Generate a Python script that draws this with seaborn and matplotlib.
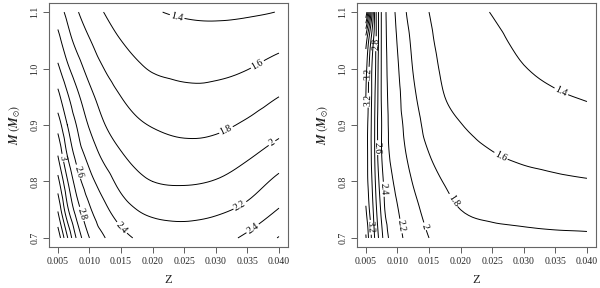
import numpy as np
import matplotlib
matplotlib.use("Agg")
import matplotlib.pyplot as plt
import matplotlib.tri as mtri
import seaborn as sns

# ─────────────────────────────────────────────
# Data (value of the contoured quantity on a grid)
# ─────────────────────────────────────────────

M_VALUES = [0.70, 0.75, 0.80, 0.85, 0.90, 0.95, 1.00, 1.05, 1.10]

Z_LEFT = [0.005, 0.0065, 0.008, 0.010, 0.0125, 0.015, 0.0175, 0.020,
          0.025, 0.030, 0.035, 0.040]

# one row per M value (bottom -> top)
LEFT_GRID = [
    [4.15, 3.62, 3.17, 2.80, 2.60, 2.47, 2.38, 2.32, 2.29, 2.33, 2.44, 2.61],
    [3.78, 3.25, 2.90, 2.63, 2.44, 2.29, 2.20, 2.155, 2.135, 2.165, 2.25, 2.41],
    [3.47, 3.02, 2.70, 2.47, 2.29, 2.14, 2.05, 2.00, 1.98, 2.01, 2.10, 2.25],
    [3.18, 2.78, 2.52, 2.32, 2.13, 2.01, 1.935, 1.89, 1.86, 1.885, 1.965, 2.08],
    [2.92, 2.60, 2.39, 2.18, 2.00, 1.895, 1.83, 1.79, 1.75, 1.76, 1.83, 1.93],
    [2.66, 2.43, 2.25, 2.06, 1.90, 1.80, 1.73, 1.69, 1.65, 1.655, 1.71, 1.80],
    [2.44, 2.24, 2.09, 1.93, 1.79, 1.70, 1.63, 1.585, 1.555, 1.56, 1.595, 1.67],
    [2.26, 2.08, 1.94, 1.81, 1.68, 1.60, 1.54, 1.50, 1.47, 1.465, 1.485, 1.54],
    [2.10, 1.95, 1.82, 1.69, 1.59, 1.51, 1.455, 1.415, 1.38, 1.37, 1.38, 1.405],
]

Z_RIGHT = [0.005, 0.0055, 0.006, 0.0065, 0.007, 0.0075, 0.008, 0.009, 0.010,
           0.0115, 0.013, 0.015, 0.0175, 0.020, 0.025, 0.030, 0.035, 0.040]

RIGHT_GRID = [
    [3.62, 3.36, 3.15, 2.96, 2.80, 2.66, 2.50, 2.35, 2.26, 2.16, 2.07, 2.00, 1.93, 1.88, 1.85, 1.84, 1.83, 1.825],
    [3.42, 3.22, 3.06, 2.87, 2.70, 2.55, 2.40, 2.29, 2.21, 2.115, 2.03, 1.935, 1.86, 1.80, 1.76, 1.74, 1.725, 1.715],
    [3.30, 3.14, 2.99, 2.80, 2.62, 2.47, 2.35, 2.23, 2.15, 2.05, 1.96, 1.865, 1.79, 1.73, 1.675, 1.645, 1.625, 1.61],
    [3.30, 3.12, 2.95, 2.76, 2.55, 2.40, 2.29, 2.17, 2.09, 1.99, 1.895, 1.80, 1.72, 1.665, 1.605, 1.57, 1.55, 1.53],
    [3.32, 3.12, 2.95, 2.76, 2.54, 2.40, 2.28, 2.15, 2.07, 1.95, 1.85, 1.735, 1.655, 1.605, 1.545, 1.50, 1.48, 1.455],
    [3.40, 3.15, 2.97, 2.78, 2.56, 2.38, 2.27, 2.13, 2.05, 1.90, 1.80, 1.69, 1.60, 1.555, 1.50, 1.45, 1.415, 1.39],
    [3.48, 3.20, 2.98, 2.82, 2.57, 2.38, 2.26, 2.11, 2.02, 1.87, 1.76, 1.66, 1.57, 1.52, 1.465, 1.405, 1.37, 1.34],
    [3.70, 3.37, 3.10, 2.86, 2.60, 2.38, 2.25, 2.09, 1.99, 1.84, 1.73, 1.63, 1.545, 1.49, 1.43, 1.37, 1.335, 1.305],
    [4.60, 4.00, 3.40, 2.90, 2.60, 2.38, 2.24, 2.07, 1.96, 1.79, 1.69, 1.60, 1.525, 1.46, 1.395, 1.34, 1.305, 1.28],
]

LEVELS = [1.4, 1.6, 1.8, 2.0, 2.2, 2.4, 2.6, 2.8, 3.0, 3.2, 3.4, 3.6,
          3.8, 4.0, 4.2, 4.4]

X_TICKS = [0.005, 0.010, 0.015, 0.020, 0.025, 0.030, 0.035, 0.040]
X_TICK_LABELS = ["0.005", "0.010", "0.015", "0.020", "0.025", "0.030", "0.035", "0.040"]
Y_TICKS = [0.7, 0.8, 0.9, 1.0, 1.1]
Y_TICK_LABELS = ["0.7", "0.8", "0.9", "1.0", "1.1"]

# where the contour labels sit (Z, M)
LEFT_LABELS = [(0.0239, 1.093), (0.0365, 1.009), (0.0315, 0.894), (0.0389, 0.868),
               (0.0339, 0.756), (0.0357, 0.719), (0.0153, 0.720), (0.0078, 0.816),
               (0.0086, 0.742), (0.0058, 0.842)]
RIGHT_LABELS = [(0.0360, 0.961), (0.0261, 0.839), (0.0186, 0.765), (0.0139, 0.719),
                (0.0105, 0.721), (0.0075, 0.786), (0.0067, 0.860), (0.0066, 1.044),
                (0.0055, 0.990), (0.0050, 0.944), (0.0060, 0.719)]


def fmt_level(v):
    return f"{v:g}"


def draw_panel(ax, z, grid, label_pos):
    zz, mm = np.meshgrid(z, M_VALUES)
    vals = np.array(grid)
    # work in axis-scaled units so the triangulation is well shaped
    xs = (zz.ravel() - 0.005) / 0.035
    ys = (mm.ravel() - 0.70) / 0.40
    tri = mtri.Triangulation(xs, ys)
    refiner = mtri.UniformTriRefiner(tri)
    interp = mtri.CubicTriInterpolator(tri, vals.ravel(), kind="geom")
    tri_f, vals_f = refiner.refine_field(vals.ravel(), triinterpolator=interp, subdiv=3)
    tri_f.x = tri_f.x * 0.035 + 0.005
    tri_f.y = tri_f.y * 0.40 + 0.70
    cs = ax.tricontour(tri_f, vals_f, levels=LEVELS,
                       colors="black", linewidths=0.7)
    ax.clabel(cs, levels=[lv for lv in LEVELS if lv <= 3.4], manual=label_pos,
              fmt=fmt_level, fontsize=7, inline=True, inline_spacing=2)
    ax.set_xlim(0.0036, 0.0414)
    ax.set_ylim(0.684, 1.116)
    ax.set_xticks(X_TICKS, X_TICK_LABELS)
    ax.set_yticks(Y_TICKS, Y_TICK_LABELS)
    for lab in ax.get_yticklabels():
        lab.set_rotation(90)
        lab.set_va("center")
    ax.tick_params(axis="both", direction="out", length=4, width=0.6,
                   color="#444444", labelsize=7, pad=3)
    for sp in ax.spines.values():
        sp.set_visible(True)
        sp.set_color("#666666")
        sp.set_linewidth(0.8)
    ax.set_xlabel("Z", fontsize=9, labelpad=6)
    ax.set_ylabel(r"$\mathbfit{M}\ (\mathbfit{M}_{\odot})$", fontsize=8.5, labelpad=6)


sns.set_style("ticks")
plt.rcParams["font.family"] = ["Liberation Serif", "DejaVu Serif"]
plt.rcParams["mathtext.fontset"] = "stix"

fig = plt.figure(figsize=(6.0, 2.88), dpi=100)
ax_left = fig.add_axes([0.0817, 0.1424, 0.398, 0.847])
ax_right = fig.add_axes([0.595, 0.1424, 0.398, 0.847])

draw_panel(ax_left, Z_LEFT, LEFT_GRID, LEFT_LABELS)
draw_panel(ax_right, Z_RIGHT, RIGHT_GRID, RIGHT_LABELS)

fig.savefig("out.png", dpi=100)
plt.close(fig)
